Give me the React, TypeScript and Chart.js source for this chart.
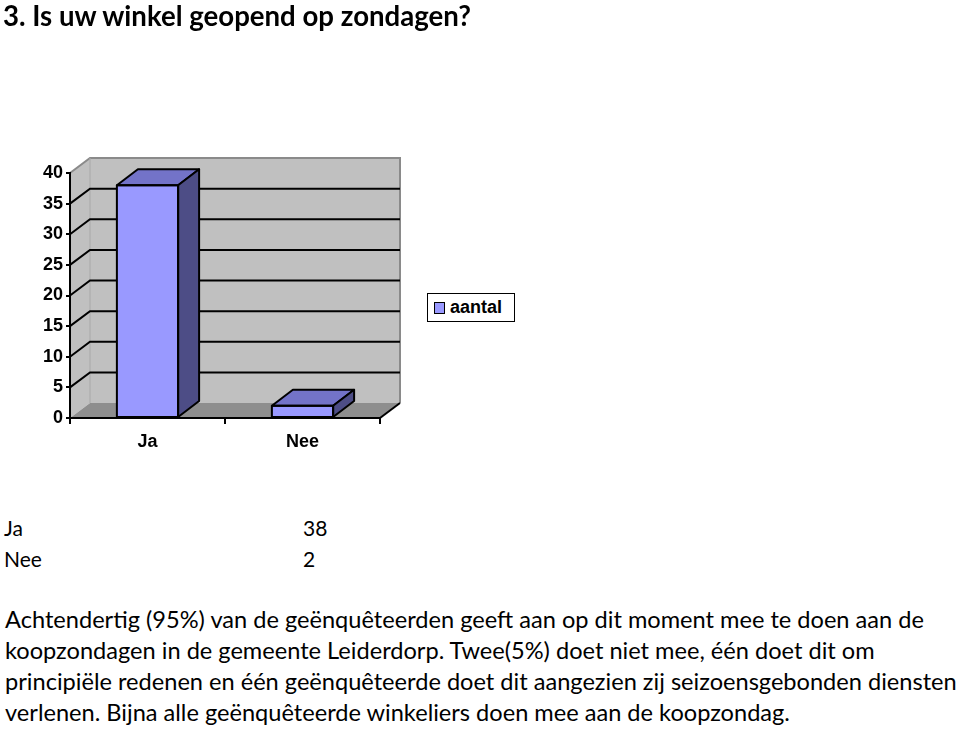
import React, { useEffect, useRef } from "react";
import { Chart, registerables } from "chart.js";

Chart.register(...registerables);

const title = "3. Is uw winkel geopend op zondagen?";
const categories = ["Ja", "Nee"];
const aantal = [38, 2];
const seriesLabel = "aantal";
const yMin = 0;
const yMax = 40;
const yStep = 5;
const paragraphLines = [
  "Achtendertig (95%) van de geënquêteerden geeft aan op dit moment mee te doen aan de",
  "koopzondagen in de gemeente Leiderdorp. Twee(5%) doet niet mee, één doet dit om",
  "principiële redenen en één geënquêteerde doet dit aangezien zij seizoensgebonden diensten",
  "verlenen. Bijna alle geënquêteerde winkeliers doen mee aan de koopzondag.",
];

const WALL_DX = 20;
const WALL_DY = -15;
const BAR_DX = 21;
const BAR_DY = -16;

const FRONT = "#9999ff";
const TOP = "#7373c8";
const SIDE = "#4d4d86";
const WALL = "#c0c0c0";
const FLOOR = "#8e8e8e";
const EDGE = "#8a8a8a";

const threeD = {
  id: "threeD",
  beforeDraw(chart: any) {
    const { ctx, chartArea } = chart;
    const y = chart.scales.y;
    const { left, right, top, bottom } = chartArea;
    ctx.save();
    ctx.fillStyle = WALL;
    ctx.fillRect(left + WALL_DX, top + WALL_DY, right - left, bottom - top);
    ctx.beginPath();
    ctx.moveTo(left, bottom);
    ctx.lineTo(left, top);
    ctx.lineTo(left + WALL_DX, top + WALL_DY);
    ctx.lineTo(left + WALL_DX, bottom + WALL_DY);
    ctx.closePath();
    ctx.fill();
    ctx.fillStyle = FLOOR;
    ctx.beginPath();
    ctx.moveTo(left, bottom);
    ctx.lineTo(right, bottom);
    ctx.lineTo(right + WALL_DX, bottom + WALL_DY);
    ctx.lineTo(left + WALL_DX, bottom + WALL_DY);
    ctx.closePath();
    ctx.fill();
    ctx.strokeStyle = EDGE;
    ctx.lineWidth = 2;
    ctx.beginPath();
    ctx.moveTo(left, top);
    ctx.lineTo(left + WALL_DX, top + WALL_DY);
    ctx.lineTo(right + WALL_DX, top + WALL_DY);
    ctx.lineTo(right + WALL_DX, bottom + WALL_DY);
    ctx.stroke();
    ctx.lineWidth = 1;
    ctx.strokeStyle = "#a8a8a8";
    ctx.beginPath();
    ctx.moveTo(left + WALL_DX, top + WALL_DY);
    ctx.lineTo(left + WALL_DX, bottom + WALL_DY);
    ctx.stroke();
    ctx.strokeStyle = "#000";
    ctx.lineWidth = 2;
    for (let v = yMin + yStep; v < yMax; v += yStep) {
      const py = y.getPixelForValue(v);
      ctx.beginPath();
      ctx.moveTo(left, py);
      ctx.lineTo(left + WALL_DX, py + WALL_DY);
      ctx.lineTo(right + WALL_DX, py + WALL_DY);
      ctx.stroke();
    }
    ctx.beginPath();
    ctx.moveTo(right, bottom);
    ctx.lineTo(right + WALL_DX, bottom + WALL_DY);
    ctx.stroke();
    ctx.restore();
  },
  afterDatasetsDraw(chart: any) {
    const { ctx } = chart;
    const meta = chart.getDatasetMeta(0);
    ctx.save();
    ctx.strokeStyle = "#000";
    ctx.lineWidth = 2;
    ctx.lineJoin = "round";
    meta.data.forEach((bar: any) => {
      const { x, y, base, width } = bar.getProps(["x", "y", "base", "width"], true);
      const l = x - width / 2;
      const r = x + width / 2;
      ctx.fillStyle = TOP;
      ctx.beginPath();
      ctx.moveTo(l, y);
      ctx.lineTo(r, y);
      ctx.lineTo(r + BAR_DX, y + BAR_DY);
      ctx.lineTo(l + BAR_DX, y + BAR_DY);
      ctx.closePath();
      ctx.fill();
      ctx.stroke();
      ctx.fillStyle = SIDE;
      ctx.beginPath();
      ctx.moveTo(r, y);
      ctx.lineTo(r, base);
      ctx.lineTo(r + BAR_DX, base + BAR_DY);
      ctx.lineTo(r + BAR_DX, y + BAR_DY);
      ctx.closePath();
      ctx.fill();
      ctx.stroke();
      ctx.strokeRect(l, y, width, base - y);
    });
    ctx.restore();
  },
};

export default function App() {
  const canvasRef = useRef<HTMLCanvasElement | null>(null);

  useEffect(() => {
    if (!canvasRef.current) return;
    const chart = new Chart(canvasRef.current, {
      type: "bar",
      data: {
        labels: categories,
        datasets: [
          {
            label: seriesLabel,
            data: aantal,
            backgroundColor: FRONT,
            borderColor: "#000",
            borderWidth: 0,
            barPercentage: 0.395,
            categoryPercentage: 1,
          },
        ],
      },
      options: {
        responsive: false,
        animation: false,
        events: [],
        layout: { padding: { left: 20, right: 580, top: 173, bottom: 12 } },
        plugins: { legend: { display: false }, tooltip: { enabled: false } },
        scales: {
          x: {
            offset: true,
            grid: {
              display: true,
              offset: true,
              drawOnChartArea: false,
              drawTicks: true,
              tickLength: 6,
              color: "#000",
              lineWidth: 2,
            },
            border: { display: true, color: "#000", width: 2 },
            ticks: {
              color: "#000",
              padding: 7,
              font: { family: "Liberation Sans, Arial", size: 18, weight: "bold" },
            },
            afterFit: (s: any) => {
              s.height = 40;
            },
          },
          y: {
            min: yMin,
            max: yMax,
            grid: {
              display: true,
              drawOnChartArea: false,
              drawTicks: true,
              tickLength: 4,
              color: "#000",
              lineWidth: 2,
            },
            border: { display: true, color: "#000", width: 2 },
            ticks: {
              stepSize: yStep,
              color: "#000",
              padding: 3,
              font: { family: "Liberation Sans, Arial", size: 18, weight: "bold" },
            },
            afterFit: (s: any) => {
              s.width = 50;
            },
          },
        },
      },
      plugins: [threeD],
    });
    return () => chart.destroy();
  }, []);

  const textFont = "Lato, 'Noto Sans', sans-serif";

  return (
    <div
      style={{
        position: "absolute",
        left: 0,
        top: 0,
        width: 960,
        height: 729,
        background: "#fff",
        overflow: "hidden",
      }}
    >
      <canvas
        ref={canvasRef}
        width={960}
        height={470}
        style={{ position: "absolute", left: 0, top: 0, width: 960, height: 470 }}
      />
      <div
        style={{
          position: "absolute",
          left: 3,
          top: -1,
          fontFamily: textFont,
          fontWeight: 700,
          fontSize: 27.6,
          lineHeight: "34px",
          whiteSpace: "nowrap",
          color: "#000",
        }}
      >
        {title}
      </div>
      <div
        style={{
          position: "absolute",
          left: 427,
          top: 293,
          width: 86,
          height: 27,
          border: "1.5px solid #000",
          background: "#fff",
          fontFamily: "Liberation Sans, Arial",
          fontSize: 18,
          fontWeight: 700,
          display: "flex",
          alignItems: "center",
        }}
      >
        <span
          style={{
            display: "inline-block",
            width: 9,
            height: 10,
            background: FRONT,
            border: "1.5px solid #000",
            marginLeft: 6,
            marginRight: 5,
          }}
        />
        <span>{seriesLabel}</span>
      </div>
      {categories.map((c, i) => (
        <div
          key={c}
          style={{
            position: "absolute",
            left: 4,
            top: 512 + i * 31,
            width: 340,
            fontFamily: textFont,
            fontSize: 21,
            lineHeight: "31px",
            whiteSpace: "nowrap",
            color: "#000",
          }}
        >
          <span>{c}</span>
          <span style={{ position: "absolute", left: 299 }}>{aantal[i]}</span>
        </div>
      ))}
      <div
        style={{
          position: "absolute",
          left: 5,
          top: 604,
          fontFamily: textFont,
          fontSize: 23.6,
          lineHeight: "31px",
          whiteSpace: "nowrap",
          color: "#000",
        }}
      >
        {paragraphLines.map((l) => (
          <div key={l}>{l}</div>
        ))}
      </div>
    </div>
  );
}
